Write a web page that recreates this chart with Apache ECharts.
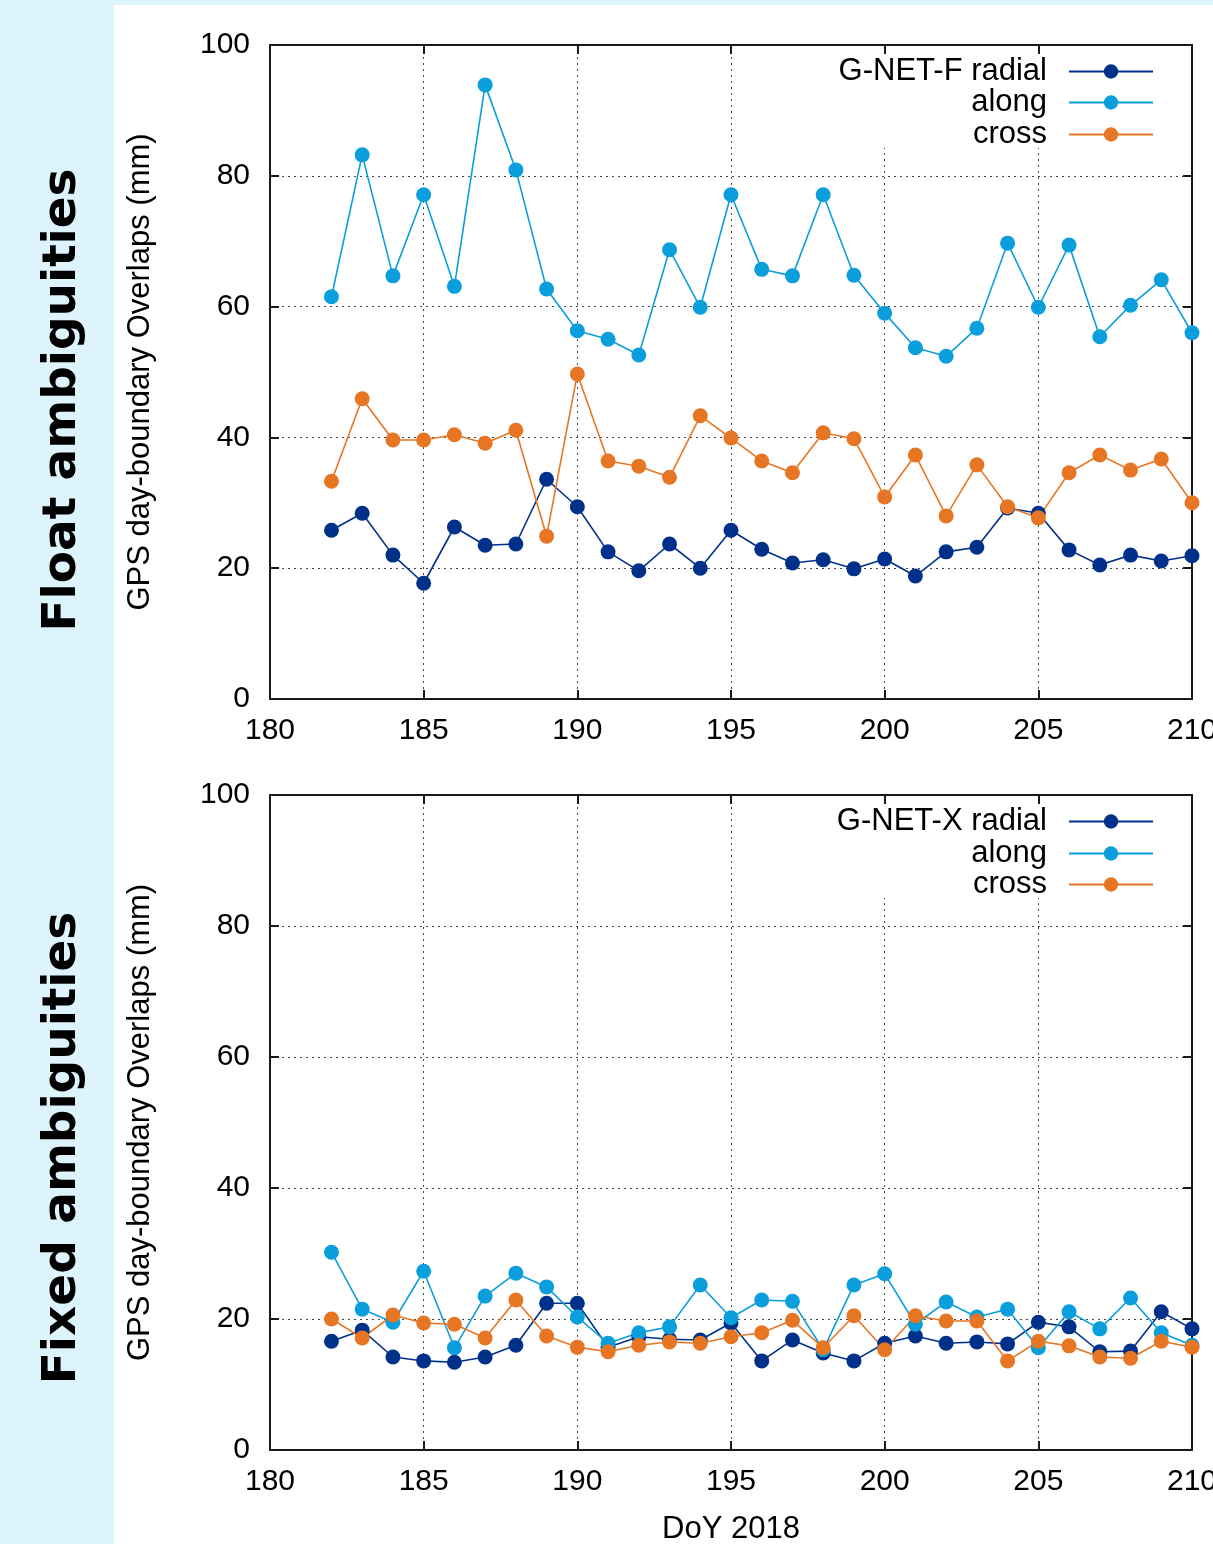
<!DOCTYPE html>
<html>
<head>
<meta charset="utf-8">
<script src="https://cdn.jsdelivr.net/npm/echarts@6/dist/echarts.min.js"></script>
<style>
  html, body { margin: 0; padding: 0; background: #def4fd; overflow: hidden; width: 1213px; height: 1544px; }
  #panel { position: absolute; left: 114px; top: 5px; width: 1099px; height: 1539px; background: #fff; }
  #main { position: absolute; left: 0; top: 0; width: 1213px; height: 1544px; }
</style>
</head>
<body>
<div id="panel"></div>
<div id="main"></div>
<script>
// day of year 182..210
var days = [182,183,184,185,186,187,188,189,190,191,192,193,194,195,196,197,198,199,200,201,202,203,204,205,206,207,208,209,210];

// float ambiguities (G-NET-F), mm
var floatRadial = [25.8,28.4,22.0,17.7,26.3,23.5,23.7,33.6,29.4,22.5,19.6,23.7,20.0,25.8,22.9,20.8,21.3,19.9,21.4,18.8,22.5,23.2,29.2,28.4,22.8,20.5,22.0,21.1,21.9];
var floatAlong  = [61.5,83.2,64.7,77.1,63.1,93.9,80.9,62.7,56.3,55.0,52.6,68.7,59.9,77.1,65.7,64.7,77.1,64.8,59.0,53.7,52.4,56.7,69.7,59.9,69.4,55.4,60.2,64.1,56.0];
var floatCross  = [33.3,45.9,39.6,39.6,40.4,39.1,41.1,24.9,49.7,36.4,35.6,33.9,43.3,39.9,36.4,34.6,40.7,39.8,30.9,37.3,28.0,35.8,29.4,27.7,34.6,37.3,35.0,36.7,30.0];

// fixed ambiguities (G-NET-X), mm
var fixedRadial = [16.6,18.3,14.2,13.6,13.4,14.2,16.0,22.4,22.4,15.7,17.3,16.9,16.8,19.4,13.6,16.8,14.8,13.6,16.3,17.4,16.3,16.5,16.2,19.5,18.8,15.0,15.1,21.1,18.5];
var fixedAlong  = [30.2,21.5,19.5,27.3,15.6,23.5,27.0,24.9,20.3,16.3,17.9,18.8,25.2,20.2,22.9,22.7,15.3,25.2,26.9,19.2,22.6,20.3,21.5,15.6,21.1,18.5,23.2,17.9,16.0];
var fixedCross  = [20.0,17.1,20.6,19.4,19.2,17.1,22.9,17.4,15.7,15.0,16.0,16.5,16.3,17.3,17.9,19.8,15.6,20.5,15.3,20.5,19.7,19.7,13.6,16.6,15.9,14.2,14.0,16.6,15.7];

var xTicks = [180, 210, 5];
var yTicks = [0, 100, 20];

var cRadial = '#00318a', cAlong = '#0a9edc', cCross = '#e77624';
var fontF = "'Liberation Sans', Arial, sans-serif";

function pairs(v){
  return days.map(function(d,i){ return [d, v[i]]; });
}

function ser(name, v, color, gi){
  return {
    name: name,
    type: 'line',
    xAxisIndex: gi*2,
    yAxisIndex: gi*2,
    data: pairs(v),
    symbol: 'circle',
    symbolSize: 15,
    lineStyle: {color: color, width: 1.6},
    itemStyle: {color: color},
    emphasis: {disabled: true},
    animation: false
  };
}

function leg(name, center){
  return {
    data: [name],
    right: 59,
    top: center - 14,
    padding: 0,
    itemWidth: 84,
    itemHeight: 18,
    align: 'right',
    selectedMode: false,
    textStyle: {fontSize: 31, fontFamily: fontF, color: '#000', padding: [0, 17, 0, 0]}
  };
}

var axLine = {show: true, onZero: false, lineStyle: {color: '#1a1a1a', width: 2}};
var tick = {show: true, inside: true, length: 9, lineStyle: {color: '#1a1a1a', width: 2}};
var dash = {show: true, lineStyle: {color: '#444', width: 1, type: [2, 4]}};

function xAx(gi, main){
  return {
    type: 'value', gridIndex: gi, min: xTicks[0], max: xTicks[1], interval: xTicks[2],
    position: main ? 'bottom' : 'top',
    axisLine: axLine, axisTick: tick,
    axisLabel: {show: main, fontSize: 30, fontFamily: fontF, color: '#000', margin: 17},
    splitLine: main ? dash : {show: false},
    name: (main && gi == 1) ? 'DoY 2018' : '',
    nameLocation: 'middle', nameGap: 64,
    nameTextStyle: {fontSize: 31, fontFamily: fontF, color: '#000'}
  };
}
function yAx(gi, main){
  return {
    type: 'value', gridIndex: gi, min: yTicks[0], max: yTicks[1], interval: yTicks[2],
    position: main ? 'left' : 'right',
    axisLine: axLine, axisTick: tick,
    axisLabel: {show: main, fontSize: 30, fontFamily: fontF, color: '#000', margin: 20},
    splitLine: main ? dash : {show: false},
    name: main ? 'GPS day-boundary Overlaps (mm)' : '',
    nameLocation: 'middle', nameGap: 114,
    nameTextStyle: {fontSize: 31, fontFamily: fontF, color: '#000'}
  };
}

var myChart = echarts.init(document.getElementById('main'));
option = {
  animation: false,
  grid: [
    {left: 270, top: 45, width: 922, height: 654, outerBoundsMode: 'none'},
    {left: 270, top: 795, width: 922, height: 655, outerBoundsMode: 'none'}
  ],
  xAxis: [xAx(0, true), xAx(0, false), xAx(1, true), xAx(1, false)],
  yAxis: [yAx(0, true), yAx(0, false), yAx(1, true), yAx(1, false)],
  legend: [
    leg('G-NET-F radial', 70), leg('along', 101), leg('cross', 133),
    leg('G-NET-X radial', 820), leg('along', 852), leg('cross', 883)
  ],
  graphic: [
    // white box behind legend hides grid lines
    {type: 'rect', z: 1, shape: {x: 822, y: 56, width: 345, height: 92}, style: {fill: '#fff'}},
    {type: 'rect', z: 1, shape: {x: 822, y: 806, width: 345, height: 92}, style: {fill: '#fff'}},
    {type: 'text', x: 63, y: 400, rotation: Math.PI/2,
     style: {text: 'Float ambiguities', font: "bold 47px 'DejaVu Sans', Verdana, sans-serif", fill: '#000', textAlign: 'center', textVerticalAlign: 'middle'}},
    {type: 'text', x: 63, y: 1148, rotation: Math.PI/2,
     style: {text: 'Fixed ambiguities', font: "bold 47px 'DejaVu Sans', Verdana, sans-serif", fill: '#000', textAlign: 'center', textVerticalAlign: 'middle'}}
  ],
  series: [
    ser('G-NET-F radial', floatRadial, cRadial, 0),
    ser('along', floatAlong, cAlong, 0),
    ser('cross', floatCross, cCross, 0),
    ser('G-NET-X radial', fixedRadial, cRadial, 1),
    ser('along', fixedAlong, cAlong, 1),
    ser('cross', fixedCross, cCross, 1)
  ]
};
option && myChart.setOption(option);
</script>
</body>
</html>
